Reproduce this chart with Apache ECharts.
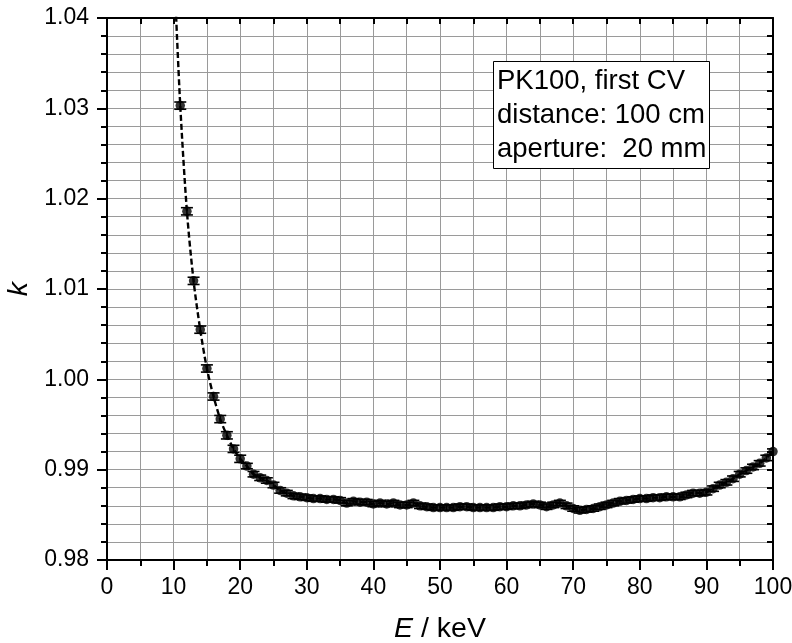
<!DOCTYPE html>
<html><head><meta charset="utf-8">
<script src="https://cdn.jsdelivr.net/npm/echarts@6/dist/echarts.min.js"></script>
<style>html,body{margin:0;padding:0;background:#fff}#c{width:792px;height:643px}</style>
</head><body><div id="c"></div>
<script>
// Energy E / keV
const energies = [11,12,13,14,15,16,17,18,19,20,21,22,23,24,25,26,27,28,29,30,
  31,32,33,34,35,36,37,38,39,40,41,42,43,44,45,46,47,48,49,50,
  51,52,53,54,55,56,57,58,59,60,61,62,63,64,65,66,67,68,69,70,
  71,72,73,74,75,76,77,78,79,80,81,82,83,84,85,86,87,88,89,90,
  91,92,93,94,95,96,97,98,99,100];
// correction factor k
const kValues = [1.0303,1.0186,1.0109,1.0055,1.0012,0.9981,0.9956,0.9938,0.9923,0.9912,
  0.9904,0.9895,0.9891,0.9888,0.9883,0.9877,0.9874,0.9871,0.9870,0.9869,
  0.9868,0.9868,0.9867,0.9867,0.9866,0.9863,0.9865,0.9864,0.9864,0.9862,
  0.9863,0.9862,0.9863,0.9861,0.9861,0.9863,0.9860,0.9859,0.9858,0.9858,
  0.9858,0.9858,0.9859,0.9859,0.9858,0.9858,0.9858,0.9858,0.9859,0.9859,
  0.9860,0.9860,0.9861,0.9862,0.9861,0.9859,0.9861,0.9863,0.9860,0.9857,
  0.9855,0.9856,0.9857,0.9859,0.9861,0.9863,0.9865,0.9866,0.9867,0.9868,
  0.9868,0.9869,0.9869,0.9870,0.9870,0.9870,0.9872,0.9874,0.9874,0.9875,
  0.9879,0.9883,0.9886,0.9890,0.9895,0.9899,0.9903,0.9907,0.9913,0.9920];
// half-width of error bars
const kErrors = [0.0004,0.0004,0.0004,0.0004,0.0004,0.0004,0.0004,0.0004,0.0004,0.0004,
  0.0003,0.0003,0.0003,0.0003,0.0003,0.0003,0.0003,0.0003,0.0003,0.0003,
  0.0003,0.0003,0.0003,0.0003,0.0003,0.0003,0.0003,0.0003,0.0003,0.0003,
  0.0003,0.0003,0.0003,0.0003,0.0003,0.0003,0.0003,0.0003,0.0003,0.0003,
  0.0003,0.0003,0.0003,0.0003,0.0003,0.0003,0.0003,0.0003,0.0003,0.0003,
  0.0003,0.0003,0.0003,0.0003,0.0003,0.0003,0.0003,0.0003,0.0003,0.0003,
  0.0003,0.0003,0.0003,0.0003,0.0003,0.0003,0.0003,0.0003,0.0003,0.0003,
  0.0003,0.0003,0.0003,0.0003,0.0003,0.0003,0.0003,0.0003,0.0003,0.0003,
  0.0003,0.0003,0.0003,0.0003,0.0003,0.0003,0.0003,0.0003,0.0003,0.0003];
// fit curve lead-in point above the axis top (clipped)
const fitLeadE = [10.2];
const fitLeadK = [1.0432];
const xTicks = [0,10,20,30,40,50,60,70,80,90,100];
const yTicks = [0.98,0.99,1.00,1.01,1.02,1.03,1.04];
const annotation = ['PK100, first CV','distance: 100 cm','aperture:  20 mm'];

const FONT = 'Liberation Sans, Arial, sans-serif';
const pts = energies.map((e,i)=>[e,kValues[i]]);
const errData = energies.map((e,i)=>[e,kValues[i],kErrors[i]]);
const fitData = fitLeadE.map((e,i)=>[e,fitLeadK[i]]).concat(pts);

const chart = echarts.init(document.getElementById('c'));
const gridColor = '#9a9a9a';
chart.setOption({
  animation:false,
  backgroundColor:'#fff',
  grid:{left:107,right:19,top:18,bottom:83,containLabel:false,outerBoundsMode:'none'},
  title:{
    text:annotation.join('\n'),
    left:493, top:61,
    backgroundColor:'#fff', borderColor:'#000', borderWidth:1,
    padding:[3,3,3,4],
    textStyle:{fontFamily:FONT,fontSize:27.5,fontWeight:'normal',color:'#000',lineHeight:34}
  },
  xAxis:[{
    type:'value', min:0, max:100, interval:10, position:'bottom',
    name:'{i|E} / keV', nameLocation:'middle', nameGap:55,
    nameTextStyle:{fontFamily:FONT,fontSize:28.5,color:'#000',
      rich:{i:{fontStyle:'italic',fontFamily:FONT,fontSize:28.5,color:'#000'}}},
    axisLine:{onZero:false,lineStyle:{color:'#000',width:2}},
    axisTick:{inside:false,length:10,lineStyle:{color:'#000',width:2}},
    minorTick:{show:true,splitNumber:2,length:6,lineStyle:{color:'#000',width:2}},
    axisLabel:{margin:16,fontFamily:FONT,fontSize:23,color:'#000',
      formatter:v=>xTicks.includes(v)?String(v):''},
    splitLine:{show:true,lineStyle:{color:gridColor,width:1}},
    minorSplitLine:{show:true,lineStyle:{color:gridColor,width:1}}
  },{
    type:'value', min:0, max:100, interval:5, position:'top',
    axisLine:{onZero:false,lineStyle:{color:'#000',width:2}},
    axisTick:{inside:true,length:6,lineStyle:{color:'#000',width:2}},
    axisLabel:{show:false}, splitLine:{show:false}
  }],
  yAxis:[{
    type:'value', min:0.98, max:1.04, interval:0.01, position:'left',
    name:'k', nameLocation:'middle', nameGap:52, nameRotate:90,
    nameTextStyle:{fontFamily:FONT,fontSize:28.5,fontStyle:'italic',color:'#000'},
    axisLine:{onZero:false,lineStyle:{color:'#000',width:2}},
    axisTick:{inside:false,length:10,lineStyle:{color:'#000',width:2}},
    minorTick:{show:true,splitNumber:5,length:6,lineStyle:{color:'#000',width:2}},
    axisLabel:{margin:18,fontFamily:FONT,fontSize:23,color:'#000',
      formatter:v=>{const s=v.toFixed(2);return yTicks.some(t=>t.toFixed(2)===s)?s:'';}},
    splitLine:{show:true,lineStyle:{color:gridColor,width:1}},
    minorSplitLine:{show:true,lineStyle:{color:gridColor,width:1}}
  },{
    type:'value', min:0.98, max:1.04, interval:0.002, position:'right',
    axisLine:{onZero:false,lineStyle:{color:'#000',width:2}},
    axisTick:{inside:true,length:6,lineStyle:{color:'#000',width:2}},
    axisLabel:{show:false}, splitLine:{show:false}
  }],
  series:[{
    type:'line', data:fitData, xAxisIndex:0, yAxisIndex:0,
    showSymbol:false, symbol:'none', smooth:0.3, clip:true,
    lineStyle:{color:'#000',width:2.4,type:[6,3]}, z:2
  },{
    type:'custom', xAxisIndex:0, yAxisIndex:0, data:errData, z:3, clip:true,
    renderItem:(params,api)=>{
      const x=api.value(0),y=api.value(1),e=api.value(2);
      const top=api.coord([x,y+e]), bot=api.coord([x,y-e]);
      const hw=6;
      const st={stroke:'#000',lineWidth:1.6};
      return {type:'group',children:[
        {type:'line',shape:{x1:top[0],y1:top[1],x2:bot[0],y2:bot[1]},style:st},
        {type:'line',shape:{x1:top[0]-hw,y1:top[1],x2:top[0]+hw,y2:top[1]},style:st},
        {type:'line',shape:{x1:bot[0]-hw,y1:bot[1],x2:bot[0]+hw,y2:bot[1]},style:st}
      ]};
    }
  },{
    type:'scatter', data:pts, xAxisIndex:0, yAxisIndex:0,
    symbol:'circle', symbolSize:9.5, itemStyle:{color:'#000'}, z:4
  }]
});
</script></body></html>
